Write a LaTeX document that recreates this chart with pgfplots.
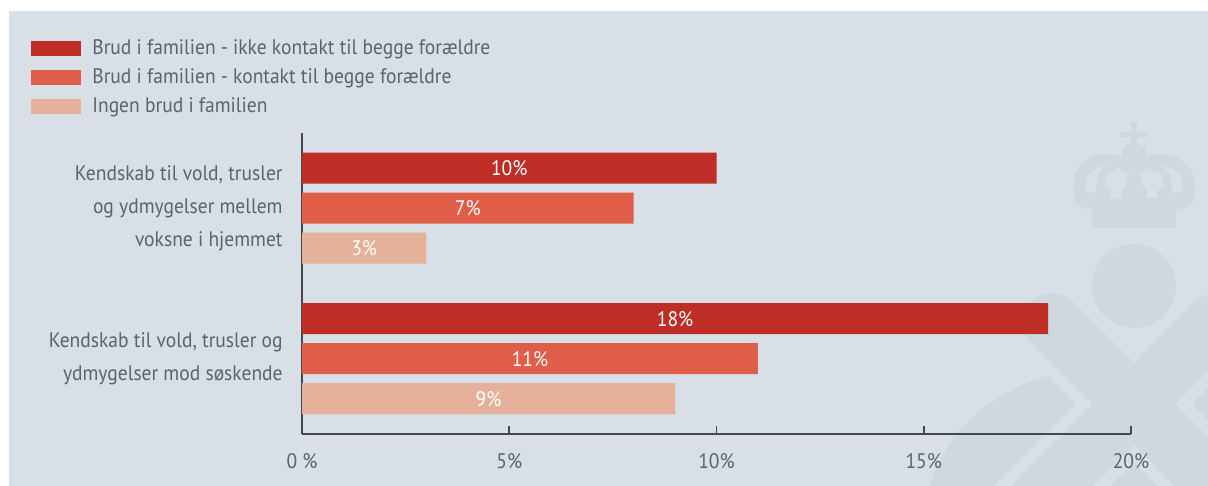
\documentclass[border=0pt]{standalone}
\usepackage{fontspec}
\setmainfont[FakeStretch=0.93]{PT Sans}
\usepackage{pgfplots}
\pgfplotsset{compat=1.18}
\definecolor{bg}{HTML}{D8DFE6}
\definecolor{wm}{HTML}{CDD8DF}
\definecolor{barA}{HTML}{BE2D26}
\definecolor{barB}{HTML}{E05E48}
\definecolor{barC}{HTML}{E5B19B}
\definecolor{txt}{HTML}{5B636B}
\definecolor{axline}{HTML}{45494E}
\newcommand{\chartfont}{\fontsize{10.5}{16.5}\selectfont}
\begin{document}
\begin{tikzpicture}
\path[use as bounding box] (0,0) rectangle (604pt,243pt);
\fill[white] (0,0) rectangle (604pt,243pt);
% panel and watermark, in pixel units of the reference
\begin{scope}[shift={(0pt,243pt)}, x=0.5pt, y=-0.5pt]
  \fill[bg] (9,11) rectangle (1210,490);
  \fill[wm] (928,490) .. controls (950,420) and (1000,390) .. (1050,375) -- (1210,375) -- (1210,490) -- cycle;
  \draw[bg, line width=41pt, line cap=round] (1052,322) -- (1260,530);
  \draw[bg, line width=41pt, line cap=round] (1216,322) -- (1000,538);
  \draw[wm, line width=29pt, line cap=round] (1052,322) -- (1260,530);
  \draw[wm, line width=29pt, line cap=round] (1216,322) -- (1000,538);
  \fill[wm] (1134,286) circle (42);
  % crown
  \fill[wm] (1092,198) rectangle (1176,228);
  \draw[wm, line width=3pt] (1134,122) -- (1134,150);
  \draw[wm, line width=2.5pt] (1120,135) -- (1149,135);
  \fill[wm] (1134,153) ellipse (12 and 10);
  \fill[wm] (1134,181) circle (8);
  \fill[wm] (1134,193) ellipse (13 and 10);
  \fill[wm] (1103,195) circle (8);
  \fill[wm] (1165,195) circle (8);
  \fill[wm] (1087,200) circle (9);
  \fill[wm] (1181,200) circle (9);
  \draw[wm, line width=6pt] (1082,203) .. controls (1068,160) and (1110,150) .. (1134,170);
  \draw[wm, line width=6pt] (1186,203) .. controls (1200,160) and (1158,150) .. (1134,170);
  \draw[wm, line width=4pt] (1103,195) .. controls (1096,180) and (1104,168) .. (1116,168);
  \draw[wm, line width=4pt] (1165,195) .. controls (1172,180) and (1164,168) .. (1152,168);
\end{scope}
\begin{axis}[
    at={(151pt,26pt)}, anchor=south west,
    scale only axis,
    width=414.5pt, height=150.5pt,
    xbar, bar width=15.5pt,
    xmin=0, xmax=20, ymin=-0.5, ymax=1.5,
    axis x line*=bottom, axis y line*=left,
    axis line style={axline, line width=0.8pt},
    xtick={0,5,10,15,20},
    xticklabels={0 \%,5\%,10\%,15\%,20\%},
    tick align=inside, major tick length=4pt,
    xtick style={axline, line width=0.8pt},
    ytick={0,1},
    yticklabels={{Kendskab til vold, trusler og\\ydmygelser mod søskende},
                 {Kendskab til vold, trusler\\og ydmygelser mellem\\voksne i hjemmet}},
    ytick style={draw=none},
    yticklabel style={align=right, inner sep=0pt, xshift=-9.5pt, font=\chartfont, text=txt},
    xticklabel style={inner sep=0pt, yshift=-9.5pt, font=\chartfont, text=txt},
    point meta=explicit symbolic,
    visualization depends on=rawx \as \rawx,
    nodes near coords,
    every node near coord/.append style={anchor=center, xshift={-10.3625pt*\rawx}, text=white, font=\chartfont},
    legend image code/.code={\fill[#1] (0pt,-3.75pt) rectangle (25pt,3.75pt);},
    legend cell align=left,
    legend style={at={(axis description cs:-0.3269,1.3156)}, anchor=north west,
        draw=none, fill=none, inner sep=0pt, row sep=4pt, column sep=5.5pt,
        font=\chartfont, text=txt,
        nodes={inner sep=0pt, text height=8pt, text depth=2.5pt}},
]
\addplot[fill=barA, draw=none, bar shift=20pt] coordinates {(10,1) [10\%] (18,0) [18\%]};
\addplot[fill=barB, draw=none, bar shift=0pt] coordinates {(8,1) [7\%] (11,0) [11\%]};
\addplot[fill=barC, draw=none, bar shift=-20pt] coordinates {(3,1) [3\%] (9,0) [9\%]};
\legend{Brud i familien - ikke kontakt til begge forældre,
        Brud i familien - kontakt til begge forældre,
        Ingen brud i familien}
\end{axis}
\end{tikzpicture}
\end{document}
